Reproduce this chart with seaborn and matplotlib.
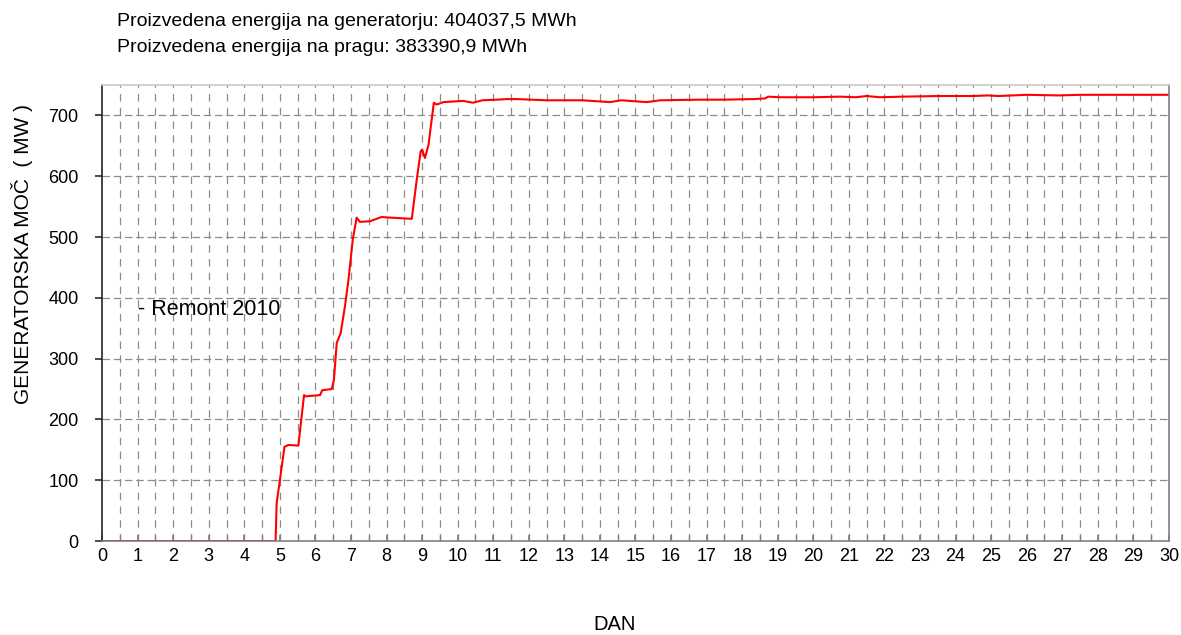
import numpy as np
import pandas as pd
import matplotlib
matplotlib.use("Agg")
import matplotlib.pyplot as plt
import seaborn as sns
from matplotlib.ticker import MultipleLocator

# odcitano s slike: dan v mesecu, generatorska moc v MW
dan = [0, 4.88, 4.91, 5.0, 5.13, 5.24, 5.52, 5.68, 5.72, 6.13, 6.19, 6.46, 6.52,
       6.60, 6.71, 6.83, 6.93, 7.05, 7.16, 7.25, 7.53, 7.86, 8.10, 8.71, 8.85,
       8.96, 9.0, 9.08, 9.18, 9.33, 9.41, 9.60, 10.15, 10.43, 10.7, 11.1, 11.4,
       11.66, 12.5, 13.5, 14.28, 14.6, 15.31, 15.7, 16.8, 17.5, 18.31, 18.64,
       18.73, 19.06, 20.04, 20.75, 21.2, 21.5, 21.87, 22.52, 23.5, 24.49, 24.9,
       25.2, 25.6, 26.0, 26.9, 27.5, 28.5, 29.2, 30.0]
moc = [0, 0, 62, 100, 155, 158, 157, 240, 238, 240, 248, 250, 265,
       326, 342, 386, 430, 496, 532, 525, 526, 533, 532, 530, 595,
       641, 644, 630, 652, 721, 718, 722, 724, 721, 725, 726, 727,
       727, 725, 725, 722, 725, 722, 725, 726, 726, 727, 728,
       731, 730, 730, 731, 730, 732, 730, 731, 732, 732, 733,
       732, 733, 734, 733, 734, 734, 734, 734]

naslov1 = "Proizvedena energija na generatorju: 404037,5 MWh"
naslov2 = "Proizvedena energija na pragu: 383390,9 MWh"
opomba = "- Remont 2010"

df = pd.DataFrame({"DAN": dan, "MOC": moc})

sns.set_theme(style="white")
plt.rcParams["font.family"] = ["Liberation Sans", "DejaVu Sans"]
plt.rcParams["text.color"] = "black"
plt.rcParams["xtick.color"] = "black"
plt.rcParams["ytick.color"] = "black"

fig = plt.figure(figsize=(11.81, 6.35), dpi=100)
ax = fig.add_axes([0.0864, 0.148, 0.9034, 0.718])

sns.lineplot(data=df, x="DAN", y="MOC", color="#ff0000", linewidth=1.5, ax=ax)

ax.set_xlim(0, 30)
ax.set_ylim(0, 750)
ax.xaxis.set_major_locator(MultipleLocator(1))
ax.xaxis.set_minor_locator(MultipleLocator(0.5))
ax.yaxis.set_major_locator(MultipleLocator(100))

# mreza
for xv in np.arange(0.5, 30, 0.5):
    ax.axvline(xv, color="#8c8c8c", linewidth=0.9, dashes=(6, 5), zorder=0)
for yv in range(100, 750, 100):
    ax.axhline(yv, color="#8c8c8c", linewidth=0.9, dashes=(6, 3), zorder=0)

ax.tick_params(axis="x", which="both", direction="in", length=4, color="#808080",
               labelsize=13, pad=5, bottom=True, labelcolor="black")
ax.tick_params(axis="y", which="major", direction="out", length=5, color="#333333",
               labelsize=13, pad=12, left=True, labelcolor="black")
ax.set_xticks(range(0, 31))
ax.set_xticklabels([str(i) for i in range(0, 31)])

ax.spines["left"].set_color("#222222")
ax.spines["bottom"].set_color("#808080")
ax.spines["top"].set_color("#c8c8c8")
ax.spines["right"].set_color("#808080")
for s in ax.spines.values():
    s.set_linewidth(1.2)

ax.set_xlabel("")
ax.set_ylabel("")
fig.text(0.019, 0.60, "GENERATORSKA MOČ  ( MW )", rotation=90, ha="center",
         va="center", fontsize=15)
fig.text(0.520, 0.016, "DAN", ha="center", va="center", fontsize=14.5)

ax.text(1.0, 381, opomba, ha="left", va="center", fontsize=15.5)

fig.text(0.099, 0.966, naslov1, ha="left", va="center", fontsize=14)
fig.text(0.099, 0.925, naslov2, ha="left", va="center", fontsize=14)

fig.savefig("out.png", dpi=100, facecolor="white")
